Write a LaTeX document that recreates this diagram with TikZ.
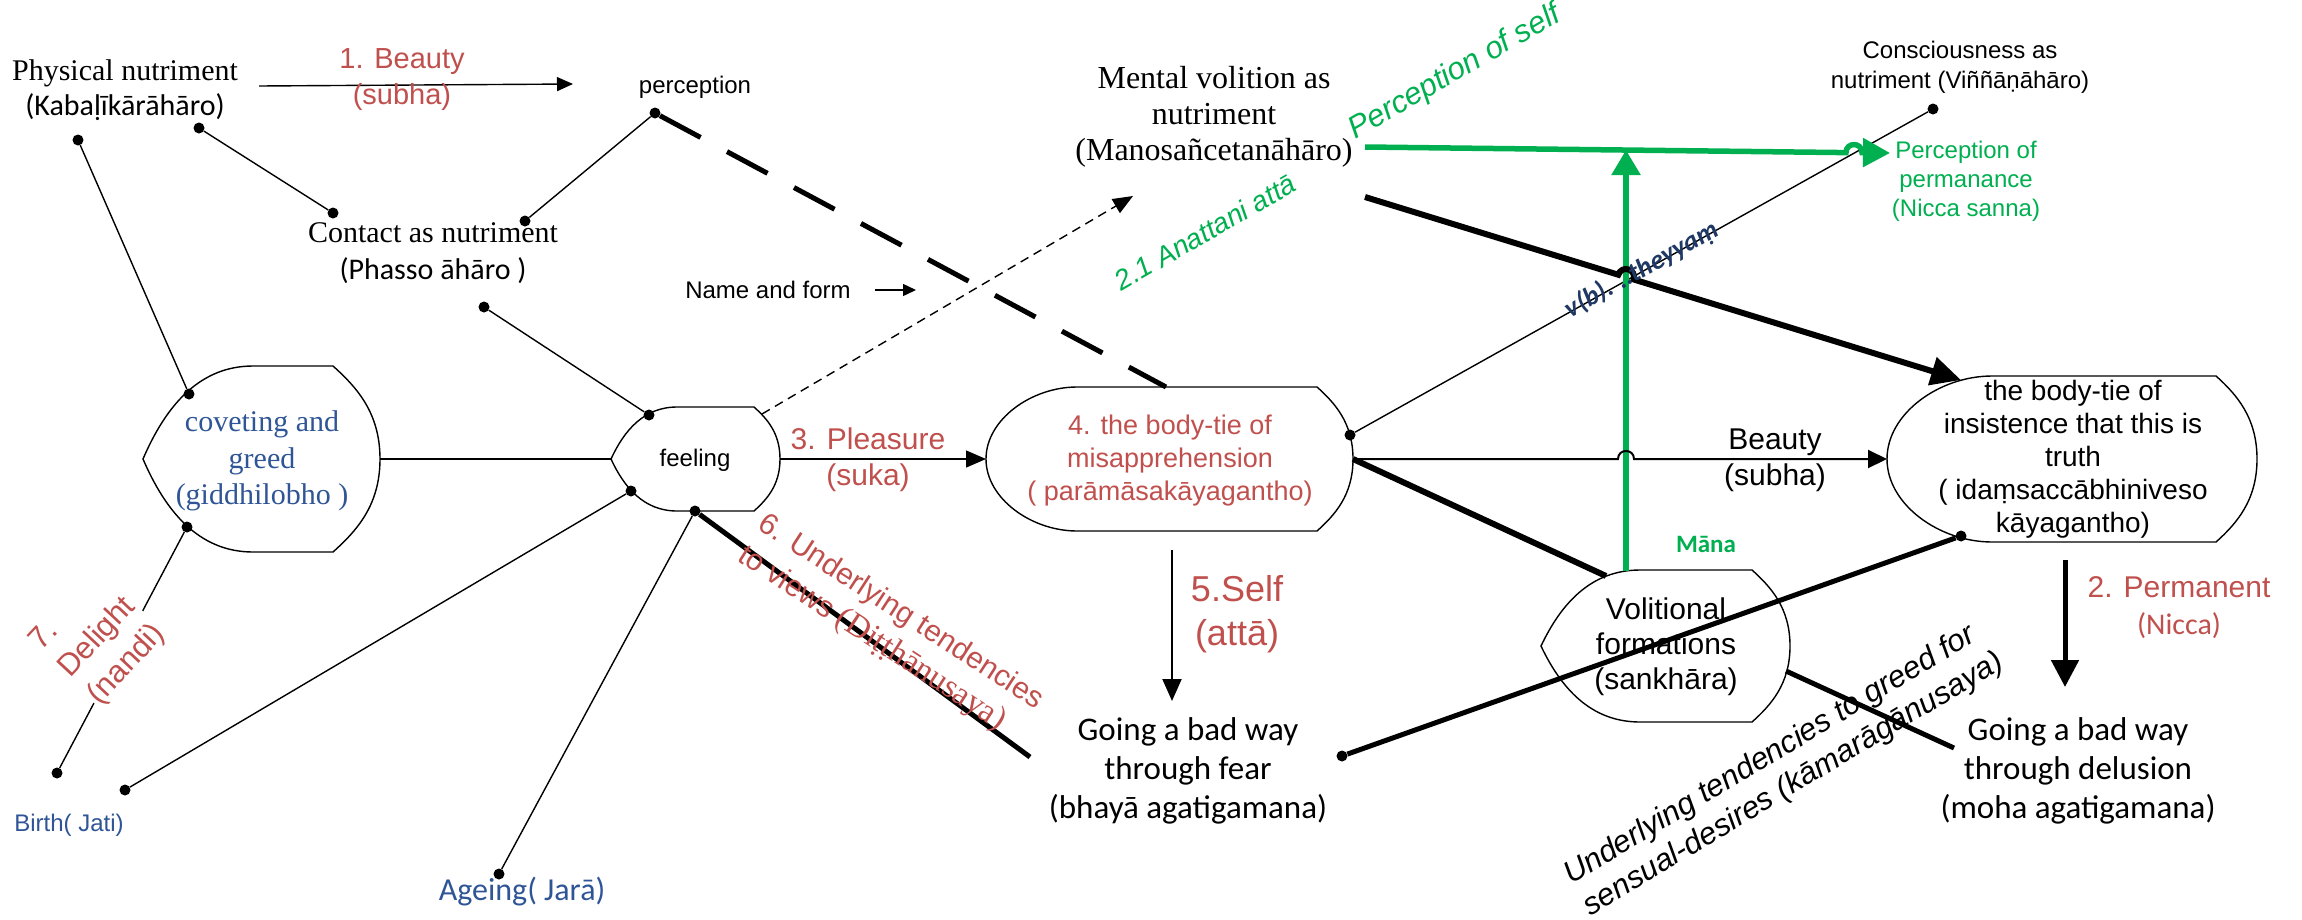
\documentclass[tikz,border=0pt]{standalone}
\usepackage{fontspec}
\setmainfont{Liberation Serif}
\newfontfamily\arialfont{Liberation Sans}
\newfontfamily\calfont{Carlito}
\usetikzlibrary{arrows.meta,calc}

\definecolor{lbred}{HTML}{C0504D}
\definecolor{lbgreen}{HTML}{00B050}
\definecolor{lbblue}{HTML}{2F5597}
\definecolor{lbnavy}{HTML}{1F3864}

\newcommand\fsz[2]{\fontsize{#1}{#2}\selectfont}

% "display" box outline: left end (tip x #1, corner x #2), right end (corner x #3, apex x #4),
% top y #5, bottom y #6, #7 = sharpness of the left tip (0 = rounded)
\newcommand\lbdisplay[7]{%
  \pgfmathsetmacro\dbym{(#5+#6)/2}%
  \pgfmathsetmacro\dbhh{(#6-#5)/2}%
  \pgfmathsetmacro\dbwl{#2-#1}%
  \pgfmathsetmacro\dbwr{#4-#3}%
  \draw[outline] (#2,#5) -- (#3,#5)
    .. controls ({#3+0.5*\dbwr},{#5+0.45*\dbwr}) and (#4,{\dbym-0.5*\dbhh}) .. (#4,\dbym)
    .. controls (#4,{\dbym+0.5*\dbhh}) and ({#3+0.5*\dbwr},{#6-0.45*\dbwr}) .. (#3,#6)
    -- (#2,#6)
    .. controls ({#2-0.5*\dbwl},#6) and ({#1+#7*\dbwl},{\dbym+0.55*\dbhh}) .. (#1,\dbym)
    .. controls ({#1+#7*\dbwl},{\dbym-0.55*\dbhh}) and ({#2-0.5*\dbwl},#5) .. (#2,#5) -- cycle;
}

\tikzset{
  outline/.style={line width=1.4pt},
  fine/.style={line width=1.4pt},
  medium/.style={line width=2pt},
  heavy/.style={line width=5pt},
  heavier/.style={line width=6pt},
  greenline/.style={draw=lbgreen,line width=5.5pt},
  lbdot/.style={circle,fill=black,inner sep=0pt,minimum size=11pt},
  txt/.style={inner sep=0pt,align=center},
  smalltip/.style={-{Triangle[length=16pt,width=14pt]}},
  midtip/.style={-{Triangle[length=20pt,width=17pt]}},
  bigtip/.style={-{Triangle[length=30pt,width=28pt]}},
}

\begin{document}
\begin{tikzpicture}[x=1pt,y=-1pt]
\fill[white] (0,0) rectangle (2302,919);
\useasboundingbox (0,0) rectangle (2302,919);

% ---- boxes ----
\lbdisplay{143}{253}{333}{380}{366}{552}{0.2}     % coveting and greed
\lbdisplay{611}{677}{754}{780}{407}{511}{0.2}     % feeling
\lbdisplay{986}{1077}{1317}{1353}{387}{531}{0}    % body-tie of misapprehension
\lbdisplay{1541}{1640}{1752}{1790}{570}{722}{0.2} % volitional formations
\lbdisplay{1887}{1992}{2216}{2257}{376}{542}{0}   % body-tie of insistence

% ---- attachment points on the boxes ----
\coordinate (covR) at (380,459);
\coordinate (feelL) at (611,459);
\coordinate (feelR) at (780,459);
\coordinate (feelTR) at (762,414);
\coordinate (misL) at (986,459);
\coordinate (misR) at (1353,459);
\coordinate (misTop) at (1166,387);
\coordinate (insL) at (1887,459);
\coordinate (insTL) at (1961,380);
\coordinate (volTL) at (1606,576);
\coordinate (volTop) at (1626,571);
\coordinate (volR) at (1786,671);

% ---- free ends ----
\coordinate (b1s) at (259,86);
\coordinate (b1t) at (573,84);
\coordinate (nfs) at (875,290);
\coordinate (nft) at (916,290);
\coordinate (dashtip) at (1133,196);
\coordinate (viewsEnd) at (1030,757);
\coordinate (selfTop) at (1172,550);
\coordinate (selfTip) at (1172,701);
\coordinate (mvB) at (1365,197);
\coordinate (mvG) at (1365,147);
\coordinate (ppTip) at (1890,153);
\coordinate (gvTip) at (1626,150);
\coordinate (greedEnd) at (1954,748);
\coordinate (permTop) at (2065,560);
\coordinate (permTip) at (2065,687);
% crossings where a line hops over another
\coordinate (xb) at (1626,459);
\coordinate (xk) at (1626,277.1);
\coordinate (xg) at (1854,152.6);

% ---- dots ----
\node[lbdot] (dPhysA) at (78,140) {};
\node[lbdot] (dPhysB) at (199,128) {};
\node[lbdot] (dContA) at (333,213) {};
\node[lbdot] (dContB) at (525,221) {};
\node[lbdot] (dPerc) at (655,113) {};
\node[lbdot] (dContC) at (484,307) {};
\node[lbdot] (dCovT) at (189,394) {};
\node[lbdot] (dCovB) at (187,527) {};
\node[lbdot] (dBirthA) at (57,773) {};
\node[lbdot] (dBirthB) at (125,790) {};
\node[lbdot] (dAge) at (499,874) {};
\node[lbdot] (dFeelT) at (649,415) {};
\node[lbdot] (dFeelL) at (631,491) {};
\node[lbdot] (dFeelB) at (695,511) {};
\node[lbdot] (dMisR) at (1350,435) {};
\node[lbdot] (dConsc) at (1933,109) {};
\node[lbdot] (dFear) at (1342,756) {};
\node[lbdot] (dIns) at (1961,536) {};

% ---- thin connectors ----
\draw[fine] (dPhysA) -- (dCovT);
\draw[fine] (dPhysB) -- (dContA);
\draw[fine] (dContB) -- (dPerc);
\draw[fine] (dContC) -- (dFeelT);
\draw[fine] (covR) -- (feelL);
\draw[fine] (dCovB) -- (dBirthA);
\draw[fine] (dFeelL) -- (dBirthB);
\draw[fine] (dFeelB) -- (dAge);
\draw[fine] (dMisR) -- (dConsc);
\draw[fine,smalltip] (b1s) -- (b1t);
\draw[fine,-{Triangle[length=13pt,width=12pt]}] (nfs) -- (nft);
\draw[fine,dash pattern=on 9pt off 6pt,-{Triangle[length=20pt,width=16pt]}] (feelTR) -- (dashtip);
\draw[fine,midtip] (feelR) -- (misL);
\draw[medium,-{Triangle[length=22pt,width=19pt]}] (selfTop) -- (selfTip);

% ---- heavy connectors ----
\draw[heavy,dash pattern=on 46pt off 30pt] (dPerc) -- (misTop);
\draw[heavy] (dFeelB) -- (viewsEnd);
\draw[heavy] (dFear) -- (dIns);
\draw[heavier] (misR) -- (volTL);
\draw[heavy] (volR) -- (greedEnd);
\draw[heavy,-{Triangle[length=27pt,width=27pt]}] (permTop) -- (permTip);

% ---- green arrows ----
\draw[greenline,-{Triangle[length=25pt,width=28pt]}] (volTop) -- (gvTip);
\draw[greenline,-{Triangle[length=27pt,width=28pt]}] (mvG)
  -- ($(xg)+(-8,0)$) .. controls ($(xg)+(-8,-10.7)$) and ($(xg)+(8,-10.7)$) .. ($(xg)+(8,0)$)
  -- (ppTip);

% ---- lines hopping over the green upright ----
\draw[medium,-{Triangle[length=19pt,width=18pt]}] (misR)
  -- ($(xb)+(-8,0)$) .. controls ($(xb)+(-8,-10.7)$) and ($(xb)+(8,-10.7)$) .. ($(xb)+(8,0)$)
  -- (insL);
\draw[heavier,bigtip] (mvB)
  -- ($(xk)+(-7.65,-2.35)$) .. controls ($(xk)+(-4.5,-12.6)$) and ($(xk)+(10.8,-7.9)$) .. ($(xk)+(7.65,2.35)$)
  -- (insTL);

% ---- texts ----
\node[txt,font=\fsz{30}{35}] (phys) at (125,90) {Physical nutriment\\{\calfont (Kabaḷīkārāhāro)}};
\node[txt,font=\arialfont\fsz{29}{36},text=lbred] (beautyA) at (402,80) {1. Beauty\\(subha)};
\node[txt,font=\arialfont\fsz{24}{29}] (percep) at (695,87) {perception};
\node[txt,font=\fsz{30}{37}] (contact) at (433,253) {Contact as nutriment\\{\calfont (Phasso āhāro )}};
\node[txt,font=\arialfont\fsz{24}{29}] (nameform) at (768,290) {Name and form};
\node[txt,font=\fsz{32}{36}] (mental) at (1214,117) {Mental volition as\\nutriment\\(Manosañcetanāhāro)};
\node[txt,font=\arialfont\itshape\fsz{28}{32},text=lbgreen,rotate=30] (anattani) at (1205,232) {2.1 Anattani attā};
\node[txt,font=\arialfont\itshape\fsz{31}{36},text=lbgreen,rotate=30] (pself) at (1455,73) {Perception of self};
\node[txt,font=\arialfont\fsz{24}{30}] (consc) at (1960,67) {Consciousness as\\nutriment (Viññāṇāhāro)};
\node[txt,font=\arialfont\fsz{24}{29},text=lbgreen] (pperm) at (1966,181) {Perception of\\permanance\\(Nicca sanna)};
\node[txt,font=\fsz{30}{36.5},text=lbblue] (covet) at (262,461) {coveting and\\greed\\(giddhilobho )};
\node[txt,font=\arialfont\fsz{24}{29}] (feeling) at (695,460) {feeling};
\node[txt,font=\arialfont\fsz{30}{36},text=lbred] (pleasure) at (868,460) {3. Pleasure\\(suka)};
\node[txt,font=\arialfont\fsz{27}{33},text=lbred] (misapp) at (1170,461) {4. the body-tie of\\misapprehension\\( parāmāsakāyagantho)};
\node[txt,font=\arialfont\fsz{36}{44},text=lbred] (self) at (1237,614) {5.Self\\(attā)};
\node[txt,font=\calfont\fsz{33}{39}] (fear) at (1188,771) {Going a bad way\\through fear\\(bhayā agatigamana)};
\node[txt,font=\arialfont\fsz{30}{38},text=lbred,rotate=-33,align=left] (views) at (890,629) {6. Underlying tendencies\\to views {\rmfamily\fontsize{33}{38}\selectfont(Diṭṭhānusaya)}};
\node[txt,font=\arialfont\fsz{31}{40},text=lbred,rotate=47,align=left,fill=white,inner sep=2pt] (delight) at (98,638) {7.\\Delight\\(nandi)};
\node[txt,font=\arialfont\fsz{24}{29},text=lbblue] (birth) at (69,825) {Birth( Jati)};
\node[txt,font=\calfont\fsz{32}{38},text=lbblue] (ageing) at (522,892) {Ageing( Jarā)};
\node[txt,font=\arialfont\fsz{30}{36}] (beautyB) at (1775,460) {Beauty\\(subha)};
\node[txt,font=\calfont\bfseries\fsz{25}{30},text=lbgreen] (mana) at (1706,544) {Māna};
\node[txt,font=\arialfont\fsz{30}{35}] (volit) at (1666,647) {Volitional\\formations\\(sankhāra)};
\node[txt,font=\arialfont\fsz{28}{33}] (insist) at (2073,459) {the body-tie of\\insistence that this is\\truth\\( idaṃsaccābhiniveso\\kāyagantho)};
\node[txt,font=\arialfont\fsz{30}{37},text=lbred] (perm) at (2179,608) {2. Permanent\\{\calfont (Nicca)}};
\node[txt,font=\calfont\fsz{33}{39}] (delus) at (2078,771) {Going a bad way\\through delusion\\(moha agatigamana)};
\node[txt,font=\arialfont\itshape\fsz{31}{37},rotate=31,align=left] (greed) at (1784,769) {Underlying tendencies to greed for\\sensual-desires (kāmarāgānusaya)};
\node[txt,font=\calfont\bfseries\itshape\fsz{27}{30},text=lbnavy,rotate=29] (vb) at (1642,270) {v(b). ..theyyaṃ};
\end{tikzpicture}
\end{document}
